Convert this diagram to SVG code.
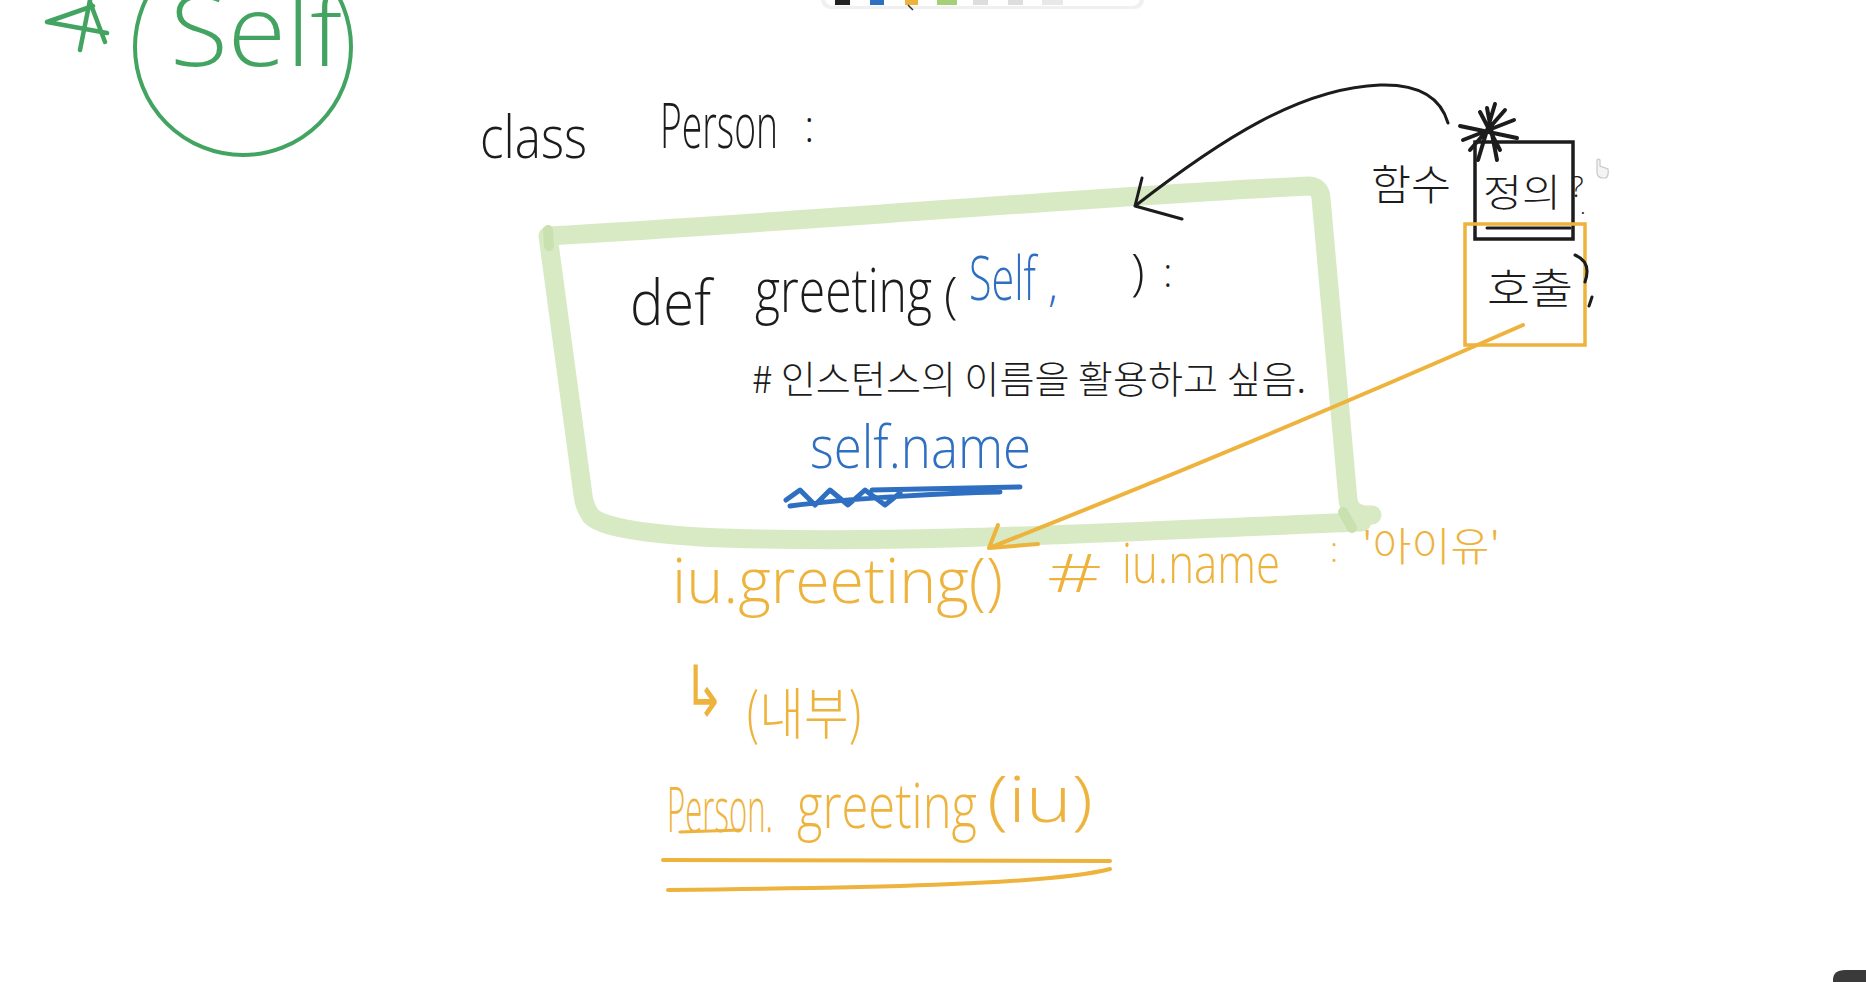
<svg xmlns="http://www.w3.org/2000/svg" width="1866" height="982" viewBox="0 0 1866 982">
<defs>
<style>
.hw{font-family:"Open Sans","Liberation Sans",sans-serif;font-weight:300}
.kr{font-family:"Noto Sans CJK KR","Noto Sans CJK SC",sans-serif;font-weight:300}
.blk{fill:#1c1c1c}
.blu{fill:#2f6fc1}
.ylw{fill:#eeb33d}
.grn{fill:#43a461}
.ln{fill:none;stroke-linecap:round;stroke-linejoin:round}
.sb{stroke:#1c1c1c}
.sy{stroke:#eeb33d}
</style>
</defs>
<rect width="1866" height="982" fill="#ffffff"/>

<g id="toolbar">
  <rect x="821" y="-20" width="323" height="29" rx="9" fill="#000" opacity="0.06"/>
  <rect x="825" y="-20" width="315" height="26" rx="8" fill="#ffffff"/>
  <rect x="835" y="0" width="15" height="5" fill="#222"/>
  <rect x="870" y="0" width="14" height="5" fill="#2f6fc1"/>
  <rect x="905" y="0" width="13" height="5" fill="#eeb33d"/>
  <path d="M908 5 L913 10" stroke="#333" stroke-width="1.5"/>
  <rect x="937" y="0" width="20" height="5" fill="#a6cf7a"/>
  <rect x="973" y="0" width="15" height="5" fill="#ddd"/>
  <rect x="1008" y="0" width="15" height="5" fill="#ddd"/>
  <rect x="1042" y="0" width="21" height="5" fill="#e8e8e8"/>
</g>

<g id="self-badge">
  <circle cx="243" cy="47" r="108" fill="none" stroke="#43a461" stroke-width="4"/>
  <text x="170" y="66" class="hw grn" font-size="100" textLength="172" lengthAdjust="spacingAndGlyphs">Self</text>
  <path class="ln" d="M90 0 L80 50 M90 2 L105 42 M93 6 L47 22 L107 33" stroke="#43a461" stroke-width="4.5"/>
</g>

<g id="class-header">
  <text x="480" y="158" class="hw blk" font-size="58" textLength="107" lengthAdjust="spacingAndGlyphs">class</text>
  <text x="660" y="148" class="hw blk" font-size="33" transform="matrix(1 0 0 1.88 0 -130.24)" textLength="118" lengthAdjust="spacingAndGlyphs">Person</text>
  <text x="804" y="142" class="hw blk" font-size="44">:</text>
</g>

<g id="method-box">
  <path class="ln" d="M548 236 C800 222 1100 196 1308 186 Q1320 186 1321 198 L1348 500 Q1350 516 1372 515 M1362 522 C1150 530 900 546 700 537 Q605 531 591 516 Q584 506 583 495 L548 236" stroke="#d8eac4" stroke-width="19"/>
  <path class="ln" d="M548 230 L549 246 M1343 512 L1352 528" stroke="#c9e1ae" stroke-width="10"/>
  <text x="630" y="325" class="hw blk" font-size="62" textLength="81" lengthAdjust="spacingAndGlyphs">def</text>
  <text x="755" y="312" class="hw blk" font-size="42.5" transform="matrix(1 0 0 1.41 0 -127.92)" textLength="177" lengthAdjust="spacingAndGlyphs">greeting</text>
  <text x="944" y="313" class="hw blk" font-size="50">(</text>
  <text x="969" y="300" class="hw blu" font-size="36.8" transform="matrix(1 0 0 1.63 0 -189)" textLength="67" lengthAdjust="spacingAndGlyphs">Self</text>
  <text x="1048" y="301" class="hw blu" font-size="46">,</text>
  <text x="1131" y="290" class="hw blk" font-size="50">)</text>
  <text x="1163" y="287" class="hw blk" font-size="40">:</text>
  <text x="752" y="393" class="kr blk" font-size="38" textLength="554" lengthAdjust="spacingAndGlyphs"># 인스턴스의 이름을 활용하고 싶음.</text>
  <text x="810" y="468" class="hw blu" font-size="58" textLength="221" lengthAdjust="spacingAndGlyphs">self.name</text>
  <path class="ln" d="M872 490 L1020 487 M786 500 L800 490 L815 505 L830 490 L848 505 L865 490 L885 505 L900 493 M790 506 C850 498 950 493 1000 492" stroke="#2f6fc1" stroke-width="5"/>
</g>

<g id="function-note">
  <text x="1371" y="200" class="kr blk" font-size="42" textLength="80" lengthAdjust="spacingAndGlyphs">함수</text>
  <rect x="1475" y="142" width="98" height="97" fill="none" stroke="#1c1c1c" stroke-width="3.5"/>
  <path class="ln sb" d="M1487 228 L1570 228" stroke-width="3"/>
  <text x="1483" y="206" class="kr blk" font-size="38" textLength="78" lengthAdjust="spacingAndGlyphs">정의</text>
  <text x="1571" y="197" class="hw blk" font-size="30">?</text>
  <text x="1580" y="214" class="hw blk" font-size="24">.</text>
  <path class="ln sb" d="M1487 108 L1497 160 M1495 104 L1478 160 M1460 126 L1517 138 M1463 140 L1514 120 M1470 150 L1505 110 M1500 150 L1480 112" stroke-width="4"/>
  <rect x="1465" y="224" width="120" height="121" fill="none" stroke="#eeb33d" stroke-width="3.5"/>
  <text x="1487" y="304" class="kr blk" font-size="42" textLength="86" lengthAdjust="spacingAndGlyphs">호출</text>
  <path class="ln sb" d="M1575 255 Q1592 262 1585 282 M1592 297 L1589 306" stroke-width="3"/>
  <path d="M1597 163 L1597 172 Q1597 178 1603 178 L1606 178 Q1609 175 1608 169 L1600 166 L1600 160 Q1598 158 1597 160 Z" fill="#f4f4f4" stroke="#c8c8c8" stroke-width="1.2"/>
</g>

<g id="call-line">
  <text x="672" y="603" class="hw ylw" font-size="62" textLength="331" lengthAdjust="spacingAndGlyphs">iu.greeting()</text>
  <text x="1047" y="592" class="hw ylw" font-size="54" textLength="55" lengthAdjust="spacingAndGlyphs">#</text>
  <text x="1122" y="583" class="hw ylw" font-size="38" transform="matrix(1 0 0 1.47 0 -274.01)" textLength="158" lengthAdjust="spacingAndGlyphs">iu.name</text>
  <text x="1330" y="562" class="hw ylw" font-size="34">:</text>
  <text x="1362" y="561" class="kr ylw" font-size="40" textLength="138" lengthAdjust="spacingAndGlyphs">'아이유'</text>
</g>

<g id="internal-note">
  <text x="683" y="716" class="ylw" font-family="DejaVu Sans,sans-serif" font-size="58" transform="matrix(1 0 0 1.22 0 -157.52)" textLength="42" lengthAdjust="spacingAndGlyphs">↳</text>
  <text x="744" y="734" class="kr ylw" font-size="56" textLength="120" lengthAdjust="spacingAndGlyphs">(내부)</text>
</g>

<g id="person-call">
  <text x="667" y="832" class="hw ylw" font-size="27.7" transform="matrix(1 0 0 2.24 0 -1031.68)" textLength="106" lengthAdjust="spacingAndGlyphs">Person.</text>
  <path class="ln sy" d="M680 832 L740 830" stroke-width="3"/>
  <text x="797" y="828" class="hw ylw" font-size="43" transform="matrix(1 0 0 1.44 0 -364.32)" textLength="180" lengthAdjust="spacingAndGlyphs">greeting</text>
  <text x="987" y="822" class="hw ylw" font-size="64" textLength="106" lengthAdjust="spacingAndGlyphs">(iu)</text>
  <path class="ln sy" d="M663 860 L1110 861 M668 890 C850 888 1050 885 1110 869" stroke-width="4"/>
</g>

<g id="connectors">
  <path class="ln sb" d="M1448 123 C1440 95 1415 84 1380 85 C1300 88 1220 140 1135 206 M1142 178 L1135 206 L1182 219" stroke-width="3"/>
  <path class="ln sy" d="M1523 325 Q1250 445 989 548 M998 525 L989 548 L1038 544" stroke-width="4"/>
</g>

<path d="M1833 982 L1833 980 Q1833 970 1845 970 L1866 970 L1866 982 Z" fill="#3a3a3a"/>
</svg>
